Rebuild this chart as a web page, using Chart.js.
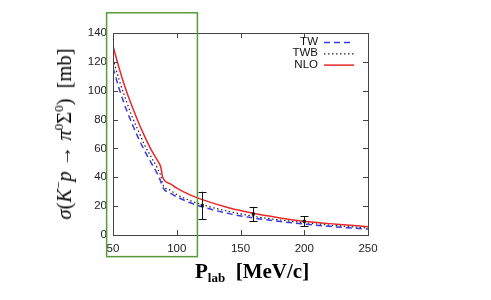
<!DOCTYPE html>
<html>
<head>
<meta charset="utf-8">
<script src="https://cdn.jsdelivr.net/npm/chart.js@4"></script>
<style>
    html, body { margin: 0; padding: 0; background: #fff; }
    #wrap { position: relative; width: 491px; height: 300px; }
    #xtitle {
        position: absolute; left: 195px; top: 259px;
        font-family: 'Liberation Serif', 'DejaVu Serif', serif;
        font-weight: bold; font-size: 21px; line-height: 24px; color: #000; white-space: nowrap;
    }
    #xtitle sub { font-size: 13px; line-height: 0; vertical-align: -4px; }
    #ytitle {
        position: absolute; left: 64px; top: 134px;
        transform: translate(-50%, -50%) rotate(-90deg);
        font-family: 'Liberation Serif', 'DejaVu Serif', serif;
        font-size: 20.5px; line-height: 24px; color: #000; white-space: nowrap;
    }
    #ytitle i { font-style: italic; }
    #ytitle sup { font-size: 13px; line-height: 0; vertical-align: 8px; }
</style>
</head>
<body>
<div id="wrap">
    <canvas id="chart" width="491" height="300"></canvas>
    <div id="xtitle">P<sub>lab</sub>&nbsp;&nbsp;[MeV/c]</div>
    <div id="ytitle"><i>σ</i>(<i>K</i><sup>−</sup><i>p</i> → <i>π</i><sup>0</sup>Σ<sup>0</sup>)&nbsp;&nbsp;[mb]</div>
</div>
<script>
    const momentum = [50, 55, 60, 65, 70, 75, 80, 85, 87.5, 89, 95, 100, 110, 120, 140, 160, 180, 200, 225, 250];
    const tw = [116, 101, 88, 77, 67, 58, 50, 42, 37, 33, 29, 26.5, 22.5, 19.5, 15, 11.8, 9.5, 7.6, 5.6, 4.1];
    const twb = [122, 107, 94, 82, 72, 62, 54, 46, 41, 35, 31, 28, 24, 21, 16.5, 13, 10.5, 8.5, 6.5, 4.8];
    const nlo = [131, 115, 101, 89, 78, 68, 59, 51.5, 47, 40, 35.5, 32.5, 28, 24.5, 19, 15, 12, 9.5, 7.5, 5.8];

    const expX = [120, 160, 200];
    const expY = [20.5, 14.5, 9.5];
    const expErr = [9.5, 5, 3.5];

    const xTicks = [50, 100, 150, 200, 250];
    const yTicks = [0, 20, 40, 60, 80, 100, 120, 140];

    // highlighted region, in data units
    const boxX = [45, 116.2];
    const boxY = [-15, 154];

    const toPoints = (ys) => momentum.map((x, i) => ({ x, y: ys[i] }));

    const frame = {
        id: 'frame',
        afterDraw(chart) {
            const { ctx, chartArea: a, scales } = chart;
            const sx = scales.x;
            const sy = scales.y;
            ctx.save();

            // box + inward ticks
            ctx.strokeStyle = '#444';
            ctx.lineWidth = 1;
            ctx.strokeRect(Math.round(a.left) + 0.5, Math.round(a.top) + 0.5,
                Math.round(a.right - a.left), Math.round(a.bottom - a.top));
            ctx.beginPath();
            xTicks.forEach((t) => {
                const px = Math.round(sx.getPixelForValue(t)) + 0.5;
                ctx.moveTo(px, a.bottom); ctx.lineTo(px, a.bottom - 5);
                ctx.moveTo(px, a.top); ctx.lineTo(px, a.top + 5);
            });
            yTicks.forEach((t) => {
                const py = Math.round(sy.getPixelForValue(t)) + 0.5;
                ctx.moveTo(a.left, py); ctx.lineTo(a.left + 5, py);
                ctx.moveTo(a.right, py); ctx.lineTo(a.right - 5, py);
            });
            ctx.stroke();

            // error bars
            ctx.strokeStyle = '#111';
            ctx.fillStyle = '#111';
            ctx.beginPath();
            expX.forEach((x, i) => {
                const px = Math.round(sx.getPixelForValue(x)) + 0.5;
                const top = sy.getPixelForValue(expY[i] + expErr[i]);
                const bot = sy.getPixelForValue(expY[i] - expErr[i]);
                ctx.moveTo(px, top); ctx.lineTo(px, bot);
                ctx.moveTo(px - 4, Math.round(top) + 0.5); ctx.lineTo(px + 4, Math.round(top) + 0.5);
                ctx.moveTo(px - 4, Math.round(bot) + 0.5); ctx.lineTo(px + 4, Math.round(bot) + 0.5);
            });
            ctx.stroke();
            expX.forEach((x, i) => {
                const px = sx.getPixelForValue(x);
                const py = sy.getPixelForValue(expY[i]);
                ctx.fillRect(px - 1.5, py - 1.5, 3, 3);
            });

            // legend
            ctx.font = '11.5px "Liberation Sans", Arial, sans-serif';
            ctx.textAlign = 'right';
            ctx.textBaseline = 'middle';
            chart.data.datasets.forEach((ds, i) => {
                const y = a.top + 9 + i * 11.3;
                ctx.fillStyle = '#111';
                ctx.fillText(ds.label, a.right - 50, y);
                ctx.strokeStyle = ds.borderColor;
                ctx.lineWidth = ds.borderWidth;
                ctx.setLineDash(ds.borderDash || []);
                ctx.beginPath();
                ctx.moveTo(a.right - 44, y + 0.5);
                ctx.lineTo(a.right - 14, y + 0.5);
                ctx.stroke();
            });
            ctx.setLineDash([]);

            // green highlight box
            ctx.strokeStyle = '#5a9a3e';
            ctx.lineWidth = 1.5;
            const bx0 = sx.getPixelForValue(boxX[0]);
            const bx1 = sx.getPixelForValue(boxX[1]);
            const by0 = sy.getPixelForValue(boxY[1]);
            const by1 = sy.getPixelForValue(boxY[0]);
            ctx.strokeRect(bx0, by0, bx1 - bx0, by1 - by0);

            ctx.restore();
        },
    };

    new Chart(document.getElementById('chart'), {
        type: 'line',
        data: {
            datasets: [
                {
                    label: 'TW',
                    data: toPoints(tw),
                    borderColor: '#3a3ae8',
                    borderWidth: 1.5,
                    borderDash: [6, 4],
                },
                {
                    label: 'TWB',
                    data: toPoints(twb),
                    borderColor: '#222',
                    borderWidth: 1.2,
                    borderDash: [1.5, 2.5],
                },
                {
                    label: 'NLO',
                    data: toPoints(nlo),
                    borderColor: '#e8282a',
                    borderWidth: 1.5,
                },
            ],
        },
        options: {
            responsive: false,
            animation: false,
            cubicInterpolationMode: 'monotone',
            pointRadius: 0,
            layout: {
                padding: { left: 0, top: 33, right: 123, bottom: 0 },
            },
            plugins: {
                legend: { display: false },
                tooltip: { enabled: false },
            },
            scales: {
                x: {
                    type: 'linear',
                    min: 50,
                    max: 250,
                    afterFit: (scale) => { scale.height = 65; },
                    afterBuildTicks: (scale) => { scale.ticks = xTicks.map((v) => ({ value: v })); },
                    grid: { display: false, drawTicks: false },
                    border: { display: false },
                    ticks: {
                        padding: 7,
                        color: '#222',
                        font: { family: '"Liberation Sans", Arial, sans-serif', size: 11.5 },
                    },
                },
                y: {
                    min: 0,
                    max: 140,
                    afterFit: (scale) => { scale.width = 113; },
                    afterBuildTicks: (scale) => { scale.ticks = yTicks.map((v) => ({ value: v })); },
                    grid: { display: false, drawTicks: false },
                    border: { display: false },
                    ticks: {
                        padding: 6,
                        color: '#222',
                        font: { family: '"Liberation Sans", Arial, sans-serif', size: 11.5 },
                    },
                },
            },
        },
        plugins: [frame],
    });
</script>
</body>
</html>
